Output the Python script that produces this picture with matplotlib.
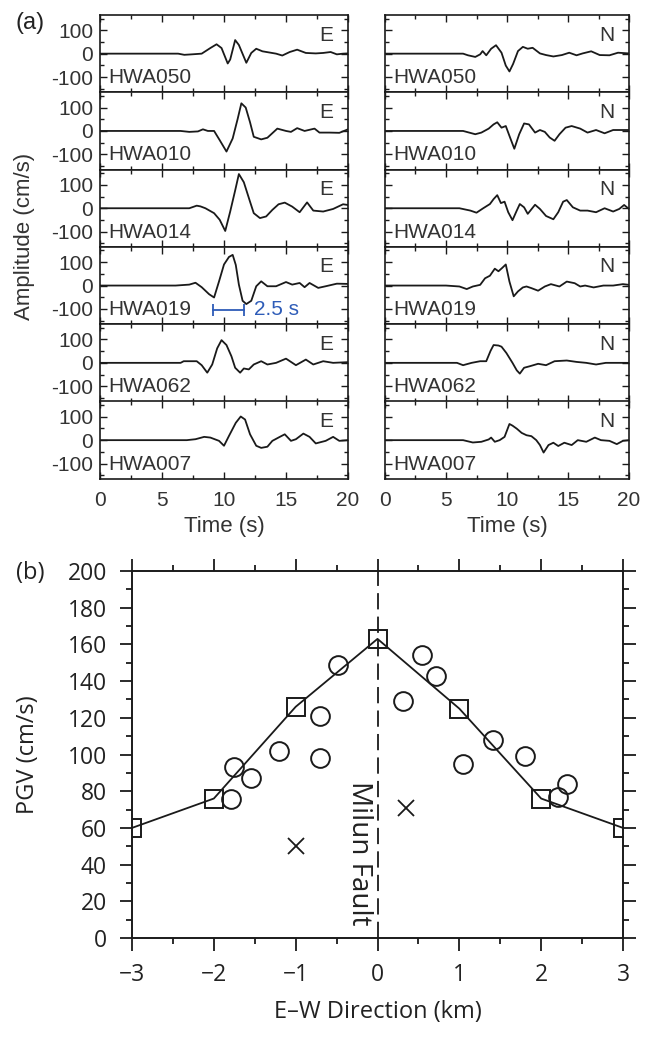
import matplotlib
matplotlib.use("Agg")
import matplotlib.pyplot as plt
from matplotlib.ticker import MultipleLocator

stations = ['HWA050', 'HWA010', 'HWA014', 'HWA019', 'HWA062', 'HWA007']

# E component
e_t_050 = [0, 6.3, 6.8, 7.4, 8.2, 8.9, 9.4, 9.8, 10.3, 10.5, 10.9, 11.2, 11.8, 12.2, 12.6, 13.1, 14.2, 14.7, 15.3, 15.9, 16.6, 17.4, 18.0, 18.6, 19.1, 19.6, 20]
e_v_050 = [0, 0, -5, -3, 0, 24, 40, 24, -42, -25, 58, 37, -39, 3, 21, 10, 0, -8, 7, 17, 3, 1, 3, 7, -3, 0, 1]
e_t_010 = [0, 6.5, 7.2, 7.9, 8.3, 8.7, 9.2, 9.65, 10.2, 10.7, 11.1, 11.4, 11.75, 12.1, 12.4, 13.0, 13.5, 14.3, 15.0, 15.4, 15.9, 16.5, 17.3, 17.7, 18.5, 19.3, 20]
e_v_010 = [0, 0, -4, -2, 7, 0, 0, -39, -88, -32, 51, 118, 100, 37, -25, -36, -29, 10, 0, -4, 12, 0, 10, -7, -7, -8, 7]
e_t_014 = [0, 7.2, 7.8, 8.1, 8.5, 9.2, 9.65, 10.1, 10.5, 10.9, 11.2, 11.6, 12.1, 12.4, 12.9, 13.4, 13.9, 14.4, 14.9, 15.5, 16.1, 16.7, 17.2, 18.0, 18.8, 19.6, 20]
e_v_014 = [0, 0, 11, 8, 0, -21, -49, -97, -14, 76, 146, 111, 28, -21, -42, -35, -7, 17, 24, 7, -17, 25, -10, -14, -3, 17, 14]
e_t_019 = [0, 6.1, 7.2, 7.7, 8.2, 8.8, 9.2, 9.6, 10.0, 10.4, 10.7, 10.95, 11.2, 11.5, 11.8, 12.2, 12.6, 13.0, 13.5, 14.2, 15.0, 15.5, 16.1, 16.5, 16.9, 17.6, 18.2, 19.1, 20]
e_v_019 = [0, 0, 4, 12, -7, -37, -51, 18, 90, 122, 131, 88, 4, -65, -79, -65, -3, 18, -3, -3, 15, 4, 11, -7, 11, -10, -3, 8, 7]
e_t_062 = [0, 6.5, 6.75, 7.4, 7.8, 8.2, 8.65, 9.05, 9.45, 9.8, 10.2, 10.6, 10.9, 11.3, 11.6, 12.0, 12.4, 13.0, 13.5, 14.2, 15.0, 15.8, 16.6, 17.2, 18.0, 18.8, 20]
e_v_062 = [0, 0, 7, 7, 7, -10, -42, -7, 62, 97, 76, 28, -21, -42, -24, -28, -7, 7, -7, 0, 18, -10, 14, -7, 7, 0, 3]
e_t_007 = [0, 7.0, 7.7, 8.4, 8.9, 9.6, 10.0, 10.4, 10.95, 11.35, 11.7, 12.1, 12.6, 13.0, 13.5, 13.9, 14.5, 14.9, 15.4, 15.8, 16.4, 16.9, 17.4, 18.2, 18.8, 19.3, 20]
e_v_007 = [0, 0, 4, 14, 11, -3, -24, 18, 74, 101, 88, 25, -24, -33, -28, -3, 14, 25, -3, 4, 28, 14, -14, -3, 14, -3, 0]

# N component
n_t_050 = [0, 6.4, 6.8, 7.4, 7.8, 8.0, 8.3, 8.7, 9.1, 9.55, 9.9, 10.2, 10.5, 10.9, 11.3, 11.7, 12.1, 12.7, 13.2, 13.8, 14.5, 15.1, 15.7, 16.2, 16.9, 17.6, 18.4, 19.1, 20]
n_v_050 = [0, 0, -7, -14, -3, 11, -7, 21, 36, 4, -51, -76, -44, 11, 29, 21, 25, 1, -6, -12, -6, 4, -7, 1, 10, -6, -7, 4, 1]
n_t_010 = [0, 6.4, 7.4, 7.9, 8.5, 8.9, 9.2, 9.55, 9.9, 10.2, 10.6, 11.0, 11.4, 11.8, 12.3, 12.7, 13.1, 13.5, 13.9, 14.3, 14.8, 15.3, 16.0, 16.6, 17.3, 18.0, 18.7, 20]
n_v_010 = [0, 0, -14, -7, 10, 28, 37, 14, 21, -21, -76, -14, 32, 28, -7, 4, -4, -28, -42, -14, 14, 21, 10, -7, 4, -10, 4, 4]
n_t_014 = [0, 6.1, 7.0, 7.5, 8.05, 8.6, 8.9, 9.2, 9.5, 9.8, 10.1, 10.45, 10.8, 11.05, 11.4, 11.7, 12.3, 12.7, 13.2, 13.8, 14.2, 14.6, 14.9, 15.4, 16.0, 16.6, 17.3, 18.0, 18.7, 19.2, 19.6, 20]
n_v_014 = [0, 0, -10, -19, 0, 18, 39, 56, 22, 28, -17, -51, -10, 18, 4, -24, 15, -3, -33, -47, -17, 28, 35, 4, -10, -10, -17, 0, -14, -3, 14, -3]
n_t_019 = [0, 5.0, 6.1, 6.7, 7.2, 7.8, 8.2, 8.6, 9.0, 9.3, 9.6, 9.9, 10.2, 10.55, 10.9, 11.3, 11.6, 12.0, 12.55, 13.1, 13.6, 14.3, 14.9, 15.55, 16.0, 16.4, 17.1, 17.9, 18.7, 19.5, 20]
n_v_019 = [0, 0, -4, -15, -4, 3, 31, 42, 72, 61, 75, 90, 17, -46, -25, -8, -4, -11, -22, -4, 6, -4, 17, 10, -4, 0, -8, 0, 0, 6, 3]
n_t_062 = [0, 5.9, 6.4, 7.1, 7.8, 8.3, 8.65, 8.9, 9.3, 9.55, 9.95, 10.45, 10.8, 11.05, 11.4, 11.9, 12.55, 13.2, 13.9, 14.9, 15.7, 16.5, 17.3, 18.1, 20]
n_v_062 = [0, 0, -10, 0, 7, 7, 51, 76, 74, 69, 42, 0, -32, -46, -21, -14, -4, -10, 7, 10, 4, 0, -7, 0, 0]
n_t_007 = [0, 6.4, 7.2, 7.9, 8.5, 8.7, 9.0, 9.4, 9.8, 10.2, 10.45, 10.8, 11.2, 11.6, 12.0, 12.4, 12.7, 13.0, 13.4, 13.8, 14.2, 14.7, 15.3, 15.8, 16.5, 17.2, 17.7, 18.4, 19.0, 19.5, 20]
n_v_007 = [0, 0, -10, -7, 3, 11, -7, 0, 14, 69, 62, 49, 31, 21, 17, 0, -21, -53, -21, -11, -25, -11, -21, 0, -7, 11, 0, -3, -17, -3, 0]

e_traces = [(e_t_050, e_v_050), (e_t_010, e_v_010), (e_t_014, e_v_014),
            (e_t_019, e_v_019), (e_t_062, e_v_062), (e_t_007, e_v_007)]
n_traces = [(n_t_050, n_v_050), (n_t_010, n_v_010), (n_t_014, n_v_014),
            (n_t_019, n_v_019), (n_t_062, n_v_062), (n_t_007, n_v_007)]

amp_ticks = [-100, 0, 100]
amp_labels = ['-100', '0', '100']
time_ticks = [0, 5, 10, 15, 20]
time_labels = ['0', '5', '10', '15', '20']

# 2.5 s pulse-width marker on HWA019 E
bar_t = [9.1, 11.6]
bar_v = -103

# ---- (b) PGV across the fault ----
sq_x = [-3, -2, -1, 0, 1, 2, 3]
sq_y = [60, 76, 126, 163, 125, 76, 60]
circ_x = [-1.79, -1.75, -1.54, -1.20, -0.70, -0.70, -0.48, 0.31, 0.54, 0.71, 1.05, 1.41, 1.80, 2.20, 2.31]
circ_y = [76, 93, 87, 102, 121, 98, 149, 129, 154, 143, 95, 108, 99, 77, 84]
cross_x = [-1.0, 0.35]
cross_y = [50, 71]
dist_ticks = [-3, -2, -1, 0, 1, 2, 3]
dist_labels = ['\u22123', '\u22122', '\u22121', '0', '1', '2', '3']
pgv_ticks = list(range(0, 201, 20))

W, H = 645, 1038
fig = plt.figure(figsize=(W / 100, H / 100), dpi=100)

top_font = 'Liberation Sans'
bot_font = 'Open Sans'
ink = '#1a1a1a'
txt = '#333333'
blue = '#2e5cb8'

panel_h = 77.3
for col, (traces, comp, x0, w) in enumerate([(e_traces, 'E', 100, 248), (n_traces, 'N', 385, 244)]):
    for i, (t, v) in enumerate(traces):
        top = 15 + i * panel_h
        ax = fig.add_axes([x0 / W, 1 - (top + panel_h) / H, w / W, panel_h / H])
        ax.plot(t, v, color=ink, lw=1.3)
        ax.set_xlim(0, 20)
        ax.set_ylim(-165, 165)
        ax.set_xticks(time_ticks)
        ax.xaxis.set_minor_locator(MultipleLocator(2.5))
        ax.set_yticks(amp_ticks)
        ax.yaxis.set_minor_locator(MultipleLocator(50))
        ax.tick_params(which='both', direction='in', top=True, right=True,
                       width=1.0, colors=ink, labelsize=15, pad=5)
        ax.tick_params(which='major', length=5)
        ax.tick_params(which='minor', length=3)
        for sp in ax.spines.values():
            sp.set_linewidth(1.2)
            sp.set_color(ink)
        if col == 0:
            ax.set_yticklabels(amp_labels, fontfamily=top_font, color=txt)
        else:
            ax.tick_params(labelleft=False)
        if i == len(traces) - 1:
            ax.set_xticklabels(time_labels, fontfamily=top_font, color=txt)
            ax.tick_params(axis='x', pad=9)
            ax.set_xlabel('Time (s)', fontfamily=top_font, fontsize=16, color=txt, labelpad=4)
        else:
            ax.tick_params(labelbottom=False)
        ax.text(0.035, 0.12, stations[i], transform=ax.transAxes, ha='left', va='baseline',
                fontsize=15, fontfamily=top_font, color=txt)
        ax.text(0.94, 0.67, comp, transform=ax.transAxes, ha='right', va='baseline',
                fontsize=15, fontfamily=top_font, color=txt)
        if col == 0 and stations[i] == 'HWA019':
            ax.plot(bar_t, [bar_v, bar_v], color=blue, lw=1.3, marker='|', ms=8, mew=1.3)
            ax.text(bar_t[1] + 0.8, bar_v, '2.5 s', color=blue, fontsize=15,
                    fontfamily=top_font, ha='left', va='center')

fig.text(25 / W, 1 - 236 / H, 'Amplitude (cm/s)', rotation=90, ha='center', va='center',
         fontsize=16, fontfamily=top_font, color=txt)
fig.text(30 / W, 1 - 23 / H, '(a)', ha='center', va='center', fontsize=17,
         fontfamily=top_font, color='#222222')

# ---- panel (b) ----
bx = fig.add_axes([132 / W, 1 - 938 / H, 491 / W, 367 / H])
bx.axvline(0, color=ink, lw=1.3, linestyle=(0, (9, 4)), zorder=1)
bx.plot(sq_x, sq_y, color=ink, lw=1.3, marker='s', ms=12.5, mfc='none', mec=ink, mew=1.4, zorder=3)
bx.plot(circ_x, circ_y, linestyle='none', marker='o', ms=13.5, mfc='none', mec=ink, mew=1.4, zorder=3)
bx.plot(cross_x, cross_y, linestyle='none', marker='x', ms=11, mec=ink, mew=1.3, zorder=3)
bx.text(-0.23, 46, 'Milun Fault', rotation=-90, ha='center', va='center',
        fontsize=20, fontfamily=bot_font, color='#222222')

bx.set_xlim(-3, 3)
bx.set_ylim(0, 200)
bx.set_xticks(dist_ticks)
bx.set_xticklabels(dist_labels)
bx.xaxis.set_minor_locator(MultipleLocator(0.5))
bx.set_yticks(pgv_ticks)
bx.yaxis.set_minor_locator(MultipleLocator(10))
bx.tick_params(which='both', direction='out', top=True, right=True, width=1.3,
               colors=ink, labelsize=16.5, pad=9)
bx.tick_params(which='major', length=9)
bx.tick_params(which='minor', length=4.5)
for lab in bx.get_xticklabels() + bx.get_yticklabels():
    lab.set_fontfamily(bot_font)
    lab.set_color('#222222')
for sp in bx.spines.values():
    sp.set_linewidth(1.4)
    sp.set_color(ink)
bx.set_ylabel('PGV (cm/s)', fontsize=17, fontfamily=bot_font, color='#222222')
bx.yaxis.set_label_coords(-0.187, 0.5)
bx.set_xlabel('E\u2013W Direction (km)', fontsize=17, fontfamily=bot_font, color='#222222')
bx.xaxis.set_label_coords(0.5, -0.169)
fig.text(30 / W, 1 - 573 / H, '(b)', ha='center', va='center', fontsize=17,
         fontfamily=bot_font, color='#222222')

fig.savefig('out.png', dpi=100)
